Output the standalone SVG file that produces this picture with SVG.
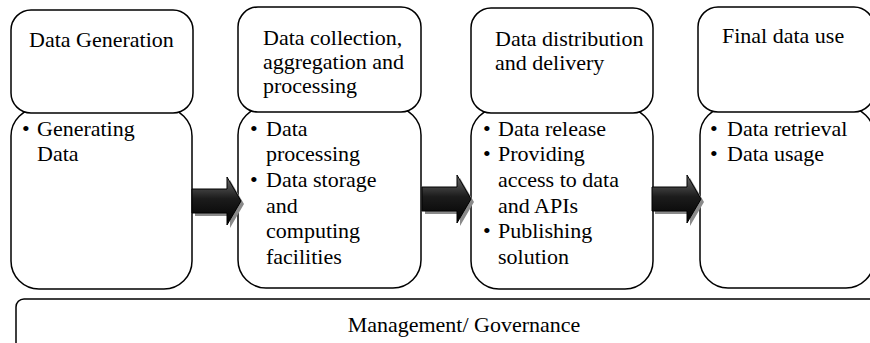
<svg xmlns="http://www.w3.org/2000/svg" width="870" height="343" viewBox="0 0 870 343">
<defs>
<style>
.box{fill:#fff;stroke:#000;stroke-width:1.5}
.t{font-family:"Liberation Serif","Times New Roman",serif;font-size:22px;fill:#000}
.shadow{fill:#8a8a8a}
.arr{fill:url(#ag);stroke:#000;stroke-width:1}
</style>
<linearGradient id="ag" x1="0" y1="0" x2="0" y2="1">
<stop offset="0" stop-color="#6a6a6a"/>
<stop offset="0.45" stop-color="#1c1c1c"/>
<stop offset="1" stop-color="#000"/>
</linearGradient>
<path id="arrow" d="M0,-12 L35,-12 L35,-24 L49,0 L35,24 L35,12 L0,12 Z"/>
</defs>
<rect width="870" height="343" fill="#fff"/>

<g id="node-generation">
<rect class="box" x="11" y="108" width="181" height="181" rx="28"/>
<rect class="box" x="11" y="10" width="182" height="103" rx="20"/>
<text class="t" x="29" y="47">Data Generation</text>
<text class="t" x="22" y="136">•</text>
<text class="t" x="37" y="136">Generating</text>
<text class="t" x="37" y="161">Data</text>
</g>

<g id="node-collection">
<rect class="box" x="238" y="107" width="183" height="181" rx="28"/>
<rect class="box" x="238" y="7" width="183" height="105" rx="20"/>
<text class="t" x="263" y="45">Data collection,</text>
<text class="t" x="263" y="69">aggregation and</text>
<text class="t" x="263" y="93">processing</text>
<text class="t" x="250" y="136">•</text>
<text class="t" x="266" y="136">Data</text>
<text class="t" x="266" y="161">processing</text>
<text class="t" x="250" y="187">•</text>
<text class="t" x="266" y="187">Data storage</text>
<text class="t" x="266" y="213">and</text>
<text class="t" x="266" y="238">computing</text>
<text class="t" x="266" y="264">facilities</text>
</g>

<g id="node-distribution">
<rect class="box" x="471" y="108" width="182" height="181" rx="28"/>
<rect class="box" x="471" y="8" width="182" height="105" rx="20"/>
<text class="t" x="495" y="46">Data distribution</text>
<text class="t" x="495" y="70">and delivery</text>
<text class="t" x="483" y="136">•</text>
<text class="t" x="498" y="136">Data release</text>
<text class="t" x="483" y="161">•</text>
<text class="t" x="498" y="161">Providing</text>
<text class="t" x="498" y="187">access to data</text>
<text class="t" x="498" y="213">and APIs</text>
<text class="t" x="483" y="238">•</text>
<text class="t" x="498" y="238">Publishing</text>
<text class="t" x="498" y="264">solution</text>
</g>

<g id="node-final">
<rect class="box" x="700" y="107" width="174" height="181" rx="28"/>
<rect class="box" x="698" y="7" width="176" height="105" rx="20"/>
<text class="t" x="722" y="43">Final data use</text>
<text class="t" x="710" y="136">•</text>
<text class="t" x="727" y="136">Data retrieval</text>
<text class="t" x="710" y="161">•</text>
<text class="t" x="727" y="161">Data usage</text>
</g>

<g id="node-governance">
<rect class="box" x="16" y="299" width="870" height="70" rx="8"/>
<text class="t" x="464" y="332" text-anchor="middle">Management/ Governance</text>
</g>

<g id="connectors">
<use href="#arrow" class="shadow" x="195" y="204"/>
<use href="#arrow" class="arr" x="192" y="201"/>
<use href="#arrow" class="shadow" x="425" y="202"/>
<use href="#arrow" class="arr" x="422" y="199"/>
<use href="#arrow" class="shadow" x="655" y="202"/>
<use href="#arrow" class="arr" x="652" y="199"/>
</g>
</svg>
